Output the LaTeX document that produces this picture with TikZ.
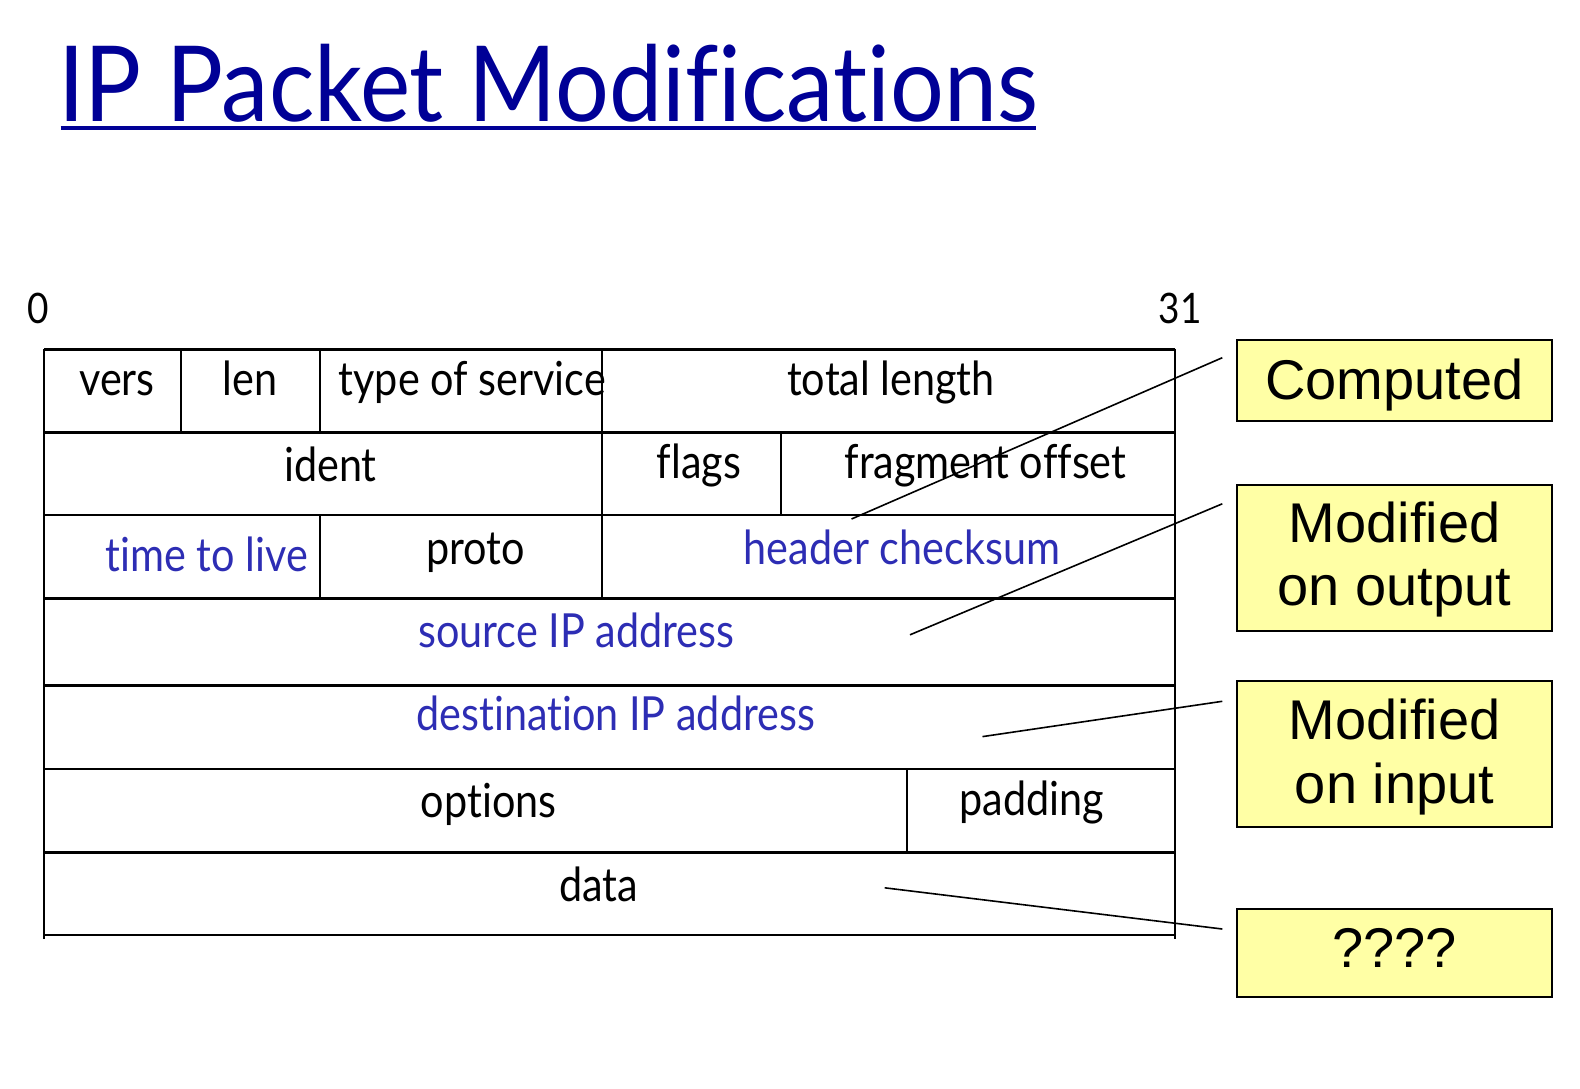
\documentclass[tikz,border=0pt]{standalone}
\usepackage{fontspec}
\setmainfont{Liberation Sans}
\newfontfamily\gill[FakeStretch=0.88,Ligatures=NoCommon]{Lato}
\newfontfamily\gilltitle[FakeStretch=0.905,Ligatures=NoCommon]{Lato}
\definecolor{titleblue}{RGB}{0,0,150}
\definecolor{fieldblue}{RGB}{45,45,180}
\definecolor{noteyellow}{RGB}{255,255,165}
\newcommand{\shiftline}[2]{\raisebox{#1}[\height][\depth]{#2}}
\begin{document}
\begin{tikzpicture}[x=1pt,y=-1pt,
  hline/.style={line width=2.6pt},
  vline/.style={line width=2pt},
  fld/.style={font=\gill\fontsize{47}{50}\selectfont, inner sep=0pt, anchor=base},
  bfld/.style={fld, text=fieldblue},
  note/.style={draw=black, line width=2pt, fill=noteyellow, inner sep=0pt,
    font=\fontsize{56}{63.5}\selectfont, align=center, minimum width=314.4pt},
  conn/.style={line width=1.6pt}]
\useasboundingbox (0,0) rectangle (1580,1088);
% title
\node[font=\gilltitle\fontsize{105}{110}\selectfont, text=titleblue, anchor=base west, inner sep=0pt] (title) at (58,121) {IP Packet Modifications};
\draw[titleblue, line width=4pt] (60.5,128) -- (1036,128);
% bit numbers
\node[font=\gill\fontsize{42}{44}\selectfont, anchor=base, inner sep=0pt] (b0) at (38.3,323) {0};
\node[font=\gill\fontsize{42}{44}\selectfont, anchor=base, inner sep=0pt] (b31) at (1180,323) {31};
% grid
\draw[hline] (44.3,349.7) -- (1175,349.7);
\draw[hline] (44.3,432.3) -- (1175,432.3);
\draw[hline] (44.3,514.9) -- (1175,514.9);
\draw[hline] (44.3,598.6) -- (1175,598.6);
\draw[hline] (44.3,685.2) -- (1175,685.2);
\draw[hline] (44.3,768.8) -- (1175,768.8);
\draw[hline] (44.3,852.5) -- (1175,852.5);
\draw[hline] (44.3,935.1) -- (1175,935.1);
\draw[vline] (44.3,348.5) -- (44.3,939);
\draw[vline] (1175,348.5) -- (1175,939);
\draw[vline] (181.4,349.7) -- (181.4,432.3);
\draw[vline] (320.4,349.7) -- (320.4,432.3);
\draw[vline] (601.6,349.7) -- (601.6,598.6);
\draw[vline] (781,432.3) -- (781,514.9);
\draw[vline] (320.4,514.9) -- (320.4,598.6);
\draw[vline] (907,768.8) -- (907,852.5);
% fields
\node[fld] (vers) at (117,395) {vers};
\node[fld] (len) at (250,395) {len};
\node[fld, anchor=base west] (tos) at (338.6,395) {type of service};
\node[fld] (tlen) at (891,395) {total length};
\node[fld] (ident) at (330.5,481) {ident};
\node[fld] (flags) at (699,478) {flags};
\node[fld] (frag) at (985.5,478) {fragment offset};
\node[bfld, anchor=base east] (ttl) at (308,571) {time to live};
\node[fld] (proto) at (475.6,564) {proto};
\node[bfld] (cksum) at (902,564) {header checksum};
\node[bfld] (src) at (576.4,647) {source IP address};
\node[bfld] (dst) at (615.7,730) {destination IP address};
\node[fld] (opts) at (488.7,817) {options};
\node[fld] (pad) at (1032,815) {padding};
\node[fld] (data) at (598.6,901) {data};
% notes
\node[note, minimum height=81.6pt] (computed) at (1394.6,380.4) {\shiftline{-5pt}{Computed}};
\node[note, minimum height=146.1pt] (outmod) at (1394.6,557.75) {\shiftline{-2pt}{Modified}\\\shiftline{-2pt}{on output}};
\node[note, minimum height=146.1pt] (inmod) at (1394.6,754.25) {\shiftline{-3pt}{Modified}\\\shiftline{-3pt}{on input}};
\node[note, minimum height=87.7pt] (unknown) at (1394.6,952.75) {\shiftline{5pt}{????}};
% connector ends
\coordinate (c1) at (1222.3,357.7);
\coordinate (e1) at (851.5,519);
\coordinate (c2) at (1222.3,503.8);
\coordinate (e2) at (910,634.8);
\coordinate (c3) at (1222.3,701.3);
\coordinate (e3) at (982.5,736.6);
\coordinate (c4) at (1222.3,929);
\coordinate (e4) at (884.7,887.8);
\draw[conn] (c1) -- (e1);
\draw[conn] (c2) -- (e2);
\draw[conn] (c3) -- (e3);
\draw[conn] (c4) -- (e4);
\end{tikzpicture}
\end{document}
